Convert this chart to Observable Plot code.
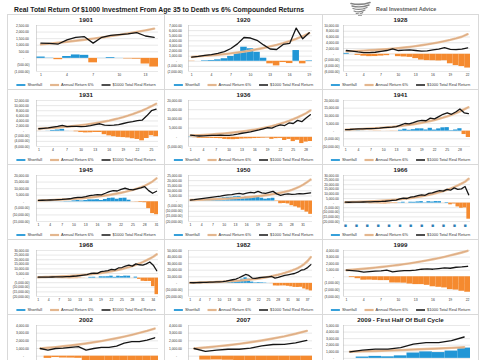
<!DOCTYPE html>
<html><head><meta charset="utf-8">
<script src="https://cdn.jsdelivr.net/npm/d3@7"></script>
<script src="https://cdn.jsdelivr.net/npm/@observablehq/plot@0.6"></script>
<style>
html,body{margin:0;padding:0;background:#fff;}
#page{position:relative;width:485px;height:360px;overflow:hidden;font-family:"Liberation Sans",Arial,sans-serif;background:#fff;}
.panel{position:absolute;}
.frame{position:absolute;left:0;top:0;width:100%;height:100%;border:1px solid #d9d9d9;box-sizing:border-box;}
.panel svg{position:absolute;left:0;display:block;overflow:visible;font-family:"Liberation Sans",Arial,sans-serif;}
</style></head>
<body><div id="page"><svg id="header" width="485" height="16" style="position:absolute;left:0;top:0"></svg></div>
<script>
const mainTitle = "Real Total Return Of $1000 Investment From Age 35 to Death vs 6% Compounded Returns";
const brand = "Real Investment Advice";
const legendLabels = ["Shortfall", "Annual Return 6%", "$1000 Total Real Return"];
const panelTitles = ["1901","1920","1928","1931","1936","1941","1945","1950","1966","1968","1982","1999","2002","2007","2009 - First Half Of Bull Cycle"];
const yMin  = [-1000,-2000,-6000,-6000,-5000,-10000,-15000,-20000,-20000,-20000,-20000,-3000,-2000,-2000,-2000];
const yMax  = [2500,7000,10000,12000,20000,20000,20000,25000,30000,30000,50000,4000,4000,4000,5000];
const yStep = [500,1000,2000,2000,5000,5000,5000,5000,5000,5000,10000,1000,1000,1000,1000];

const total1901  = [1160,1140,1090,1400,1600,1650,1160,1600,1750,1800,1860,1950,1700,1600];
const annual1901 = [1060,1120,1190,1260,1340,1420,1500,1590,1690,1790,1900,2010,2130,2260];
const total1920  = [800,950,1150,1300,1550,1900,2500,3400,4650,4550,4100,3200,2400,2300,3300,3500,6500,4400,5600];
const annual1920 = [850,950,1050,1150,1270,1400,1550,1720,1900,2100,2350,2600,2900,3200,3550,3950,4400,4900,5500];
const total1928  = [1300,1100,800,600,550,700,1000,1300,1900,1300,1400,1500,1300,1100,1200,1500,1800,2300,1700,1600,1800,2200];
const annual1928 = [1000,1080,1170,1270,1380,1500,1640,1790,1960,2140,2350,2580,2830,3110,3420,3760,4140,4560,5020,5530,6090,7000];
const total1931  = [950,1100,1250,1600,1900,2300,1800,1900,1900,1800,1900,2200,2600,2900,2400,2300,2400,2600,3000,3400,3700,4100,4300,6000,8000,8600];
const annual1931 = [1000,1100,1200,1320,1450,1600,1760,1930,2120,2340,2570,2830,3110,3420,3770,4140,4560,5010,5510,6060,6670,7340,8070,8880,9770,10750];
const total1936  = [1200,900,700,800,900,1000,1100,1200,1000,1100,1300,1700,2200,2600,3000,3500,4000,4600,5200,5000,6000,6800,6400,7800,7500,9200,8500,10500,12300];
const annual1936 = [1000,1100,1210,1330,1460,1610,1770,1950,2140,2360,2590,2850,3140,3450,3800,4180,4590,5050,5560,6110,6720,7400,8140,8950,9840,10830,11910,13100,14600];
const total1941  = [1000,1100,1300,1500,1500,1600,1700,1800,2000,2300,2500,2700,3000,4000,5000,4700,5500,6500,7000,6800,8500,8000,9500,11000,12000,11000,12500,14500,12000,11500];
const annual1941 = [1000,1100,1200,1320,1450,1600,1760,1930,2120,2330,2560,2820,3100,3410,3750,4120,4530,4980,5480,6030,6630,7290,8020,8820,9700,10670,11740,12910,14200,15620];
const total1945  = [1000,1150,1300,1350,1450,1600,1800,2100,2300,2900,3400,3300,3900,4700,5000,5500,5300,6500,7800,8500,8200,9500,10300,9500,9000,9800,10500,11500,8500,6500,8000];
const annual1945 = [1000,1100,1200,1300,1420,1550,1700,1860,2040,2240,2460,2700,2970,3260,3580,3930,4320,4740,5200,5710,6270,6880,7550,8290,9100,10000,11000,12200,13700,15500,17800];
const total1950  = [1000,1300,1800,2300,2800,3300,3800,4300,4800,5500,6000,6300,7000,7500,6800,7800,8500,8000,9500,8000,7500,8500,9500,7000,5500,6500,7000,6500,6800,7200,7000,7500,8000];
const annual1950 = [1000,1100,1200,1310,1430,1560,1700,1850,2020,2200,2400,2620,2850,3110,3390,3700,4030,4390,4790,5220,5690,6200,6760,7370,8100,8900,9800,11000,12400,14000,16000,18300,21000];
const total1966  = [1000,900,1000,1100,1100,1200,1300,1300,1500,1700,1800,2000,2500,3000,3300,4500,5500,5000,6500,7000,8000,9000,8500,10500,11000,12500,13500,13000,15000,14000,16500,15000,15500,18000,9000];
const annual1966 = [1000,1100,1210,1330,1460,1610,1770,1950,2140,2360,2590,2850,3140,3450,3800,4180,4600,5050,5560,6120,6730,7400,8140,8950,9850,10830,11920,13110,14420,15860,17450,19190,21110,23220,26500];
const total1968  = [1000,1000,1100,1100,1200,1300,1300,1400,1600,1700,2000,2300,2800,3300,3800,5000,5500,5200,7000,7500,8200,9500,9000,11000,11500,13000,14000,13000,15500,14500,14000,15500,17500,14000,8000];
const annual1968 = [1000,1100,1210,1330,1470,1610,1780,1950,2150,2360,2600,2860,3140,3460,3800,4180,4600,5060,5570,6120,6730,7410,8150,8960,9860,10850,11930,13130,14440,15880,17470,19220,21140,23250,26000];
const total1982  = [1000,900,1100,1300,1500,1600,1800,2000,2200,2400,2700,3500,4500,5500,6500,8500,11000,13500,12000,8000,7500,8500,9000,9500,10000,10500,8000,9000,10500,12000,13000,14000,15000,17000,20000,21000,24000,28500];
const annual1982 = [1000,1100,1210,1330,1460,1610,1770,1950,2140,2360,2590,2850,3140,3450,3800,4180,4600,5050,5560,6120,6730,7400,8140,8950,9850,10830,11920,13110,14420,15860,17450,19190,21110,23220,26000,29500,34000,40000];
const total1999  = [1000,950,850,700,800,850,900,1000,750,850,950,950,1000,1150,1200,1150,1250,1350,1300,1450,1500,1600];
const annual1999 = [1000,1070,1140,1220,1300,1390,1480,1580,1690,1800,1920,2050,2190,2340,2500,2670,2850,3040,3250,3470,3700,3950];
const total2002  = [1000,800,1000,1050,1150,1250,800,1000,1150,1150,1300,1700,1900,1900,2100,2400];
const annual2002 = [1000,1090,1180,1290,1400,1530,1660,1810,1970,2150,2340,2550,2780,3030,3300,3600];
const total2007  = [1000,620,780,900,900,1040,1350,1520,1530,1740,2050];
const annual2007 = [1000,1130,1270,1430,1610,1810,2040,2300,2590,2920,3300];
const total2009  = [1000,1260,1420,1420,1640,2150,2400,2380,2700,3250];
const annual2009 = [1000,1060,1120,1190,1260,1340,1420,1500,1590,1690];

const totals  = [total1901,total1920,total1928,total1931,total1936,total1941,total1945,total1950,total1966,total1968,total1982,total1999,total2002,total2007,total2009];
const annuals = [annual1901,annual1920,annual1928,annual1931,annual1936,annual1941,annual1945,annual1950,annual1966,annual1968,annual1982,annual1999,annual2002,annual2007,annual2009];

const BLUE = "#2196d6", ORANGE = "#f58a2f", TAN = "#e9c19b", TANDARK = "#d0956a", BLACK = "#151515", GRID = "#d9d9d9";

// header
const hdr = d3.select("#header");
hdr.append("text").attr("x", 14).attr("y", 11.6).attr("font-size", 6.8).attr("font-weight", "bold")
  .attr("fill", "#1a1a1a").attr("font-family", "Liberation Sans, Arial, sans-serif").text(mainTitle);
const logo = hdr.append("g").attr("transform", "translate(350,2)").attr("fill", "none").attr("stroke", "#858585").attr("stroke-linecap", "round");
[[1,1.5,20,0.5],[2,4,19,3],[3,6.5,17,5.5],[4,9,15,8],[6,11.5,13,10.5]].forEach(([x1,y1,x2,y2],j)=>{
  logo.append("path").attr("d", `M${x1},${y1} Q${(x1+x2)/2},${y1+2.2} ${x2},${y2}`).attr("stroke-width", 1.6 - j*0.15);
});
logo.append("path").attr("d", "M8,12 L10,15 L12,12").attr("stroke-width", 1.2);
hdr.append("text").attr("x", 376).attr("y", 11).attr("font-size", 5.4).attr("font-weight", "bold")
  .attr("fill", "#5a5a5a").attr("font-family", "Liberation Sans, Arial, sans-serif").text(brand);

const fmt = d3.format(",.2f");
const acct = v => v === 0 ? "-\u2007\u2007\u2007" : (v < 0 ? `(${fmt(-v)})` : fmt(v) + "\u2009");

const colLeft = [7, 164, 322], colW = [158, 159, 157];
const mL = [29, 24, 21], mR = [7, 11, 9], pad = [7, 6, 4];

panelTitles.forEach((title, k) => {
  const r = Math.floor(k / 3), c = k % 3;
  const top = 14 + 75 * r, left = colLeft[c], W = colW[c];
  const div = d3.select("#page").append("div").attr("class", "panel")
    .style("left", left + "px").style("top", top + "px").style("width", W + "px").style("height", "76px");
  div.append("div").attr("class", "frame");
  const tot = totals[k], ann = annuals[k], n = tot.length;
  const data = tot.map((v, i) => ({i: i + 1, total: v, annual: ann[i], short: v - ann[i]}));

  const ts = div.append("svg").attr("width", W).attr("height", 10).style("top", "0px");
  ts.append("text").attr("x", W / 2).attr("y", 8.3).attr("text-anchor", "middle").attr("font-size", 6.2)
    .attr("font-weight", "bold").attr("fill", "#1a1a1a").text(title);

  const yt = d3.range(yMin[k], yMax[k] + yStep[k] / 2, yStep[k]);
  const xt = d3.range(1, n + 1, 3);
  const isBox = title === "1966";
  const chart = Plot.plot({
    width: W, height: 58, marginTop: 2, marginBottom: 10, marginLeft: mL[c], marginRight: mR[c],
    style: {fontSize: "3.4px", fontFamily: "Liberation Sans, Arial, sans-serif", background: "transparent", overflow: "visible", color: "#333"},
    x: {domain: [0.5, n + 0.5], label: null},
    y: {domain: [yMin[k], yMax[k]], label: null},
    marks: [
      Plot.gridY(yt, {stroke: GRID, strokeOpacity: 1, strokeWidth: 0.6}),
      Plot.rect(data, {x1: d => d.i - 0.5, x2: d => d.i + 0.5, y1: () => 0, y2: "short",
        fill: d => d.short >= 0 ? BLUE : ORANGE, inset: 0}),
      Plot.ruleX([0.5], {stroke: "#bdbdbd", strokeWidth: 0.6}),
      Plot.lineY(data, {x: "i", y: "annual", stroke: TAN, strokeWidth: 2.4}),
      Plot.lineY(data, {x: "i", y: "annual", stroke: TANDARK, strokeWidth: 0.5}),
      Plot.lineY(data, {x: "i", y: "total", stroke: BLACK, strokeWidth: 1.3}),
      Plot.axisY(yt, {tickSize: 0, tickPadding: pad[c], tickFormat: acct, fontSize: 3.3, color: "#333", label: null}),
      Plot.axisX(xt, {tickSize: 0, tickPadding: isBox ? 2 : 2.5, tickFormat: isBox ? () => "\u25A0" : d => d,
        fontSize: isBox ? 5 : 3.4, color: isBox ? "#2f7fb6" : "#333", label: null})
    ]
  });
  chart.style.position = "absolute"; chart.style.top = "9px"; chart.style.left = "0px";
  div.node().appendChild(chart);

  const ls = div.append("svg").attr("width", W).attr("height", 8).style("top", "67px");
  const g = ls.append("g");
  let x = 0;
  legendLabels.forEach((lab, j) => {
    if (j > 0) x += 8;
    if (j === 0) {
      g.append("rect").attr("x", x).attr("y", 3.1).attr("width", 9).attr("height", 1.8).attr("fill", BLUE);
    } else if (j === 1) {
      g.append("line").attr("x1", x).attr("x2", x + 9).attr("y1", 4).attr("y2", 4).attr("stroke", TAN).attr("stroke-width", 2.2);
      g.append("line").attr("x1", x).attr("x2", x + 9).attr("y1", 4).attr("y2", 4).attr("stroke", TANDARK).attr("stroke-width", 0.5);
    } else {
      g.append("line").attr("x1", x).attr("x2", x + 9).attr("y1", 4).attr("y2", 4).attr("stroke", BLACK).attr("stroke-width", 1.5);
    }
    x += 11;
    const t = g.append("text").attr("x", x).attr("y", 5.4).attr("font-size", 4).attr("fill", "#333").text(lab);
    x += t.node().getComputedTextLength();
  });
  g.attr("transform", `translate(${(W - x) / 2},0)`);
});
</script></body></html>
